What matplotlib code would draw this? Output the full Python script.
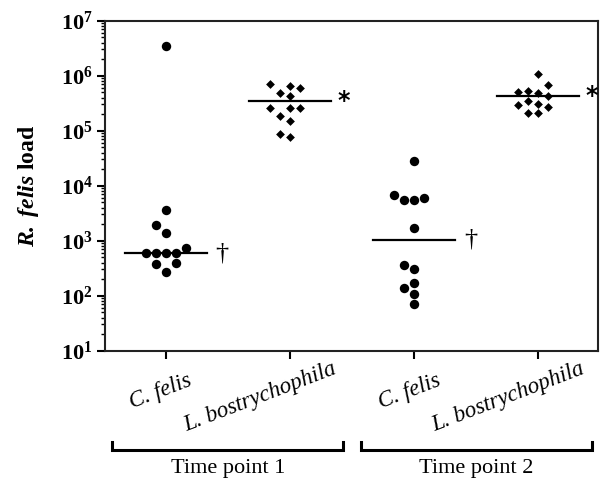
import numpy as np
import matplotlib
matplotlib.use("Agg")
import matplotlib.pyplot as plt
from matplotlib.lines import Line2D
import matplotlib.transforms as mtransforms

plt.rcParams['font.family'] = ['Liberation Serif', 'DejaVu Serif']
plt.rcParams['mathtext.fontset'] = 'custom'
plt.rcParams['mathtext.rm'] = 'Liberation Serif'
plt.rcParams['mathtext.it'] = 'Liberation Serif:italic'
plt.rcParams['mathtext.bf'] = 'Liberation Serif:bold'
plt.rcParams['mathtext.bfit'] = 'Liberation Serif:italic:bold'

# Data (R. felis load per sample)
groups = ['C. felis', 'L. bostrychophila', 'C. felis', 'L. bostrychophila']
time_points = ['Time point 1', 'Time point 2']
cfelis_tp1 = [3.4e6, 3600, 1930, 1360, 730, 590, 590, 590, 590, 390, 370, 275]
lbost_tp1 = [7.1e5, 6.5e5, 6.05e5, 4.9e5, 4.3e5, 2.55e5, 2.55e5, 2.55e5,
             1.87e5, 1.52e5, 8.7e4, 7.8e4]
cfelis_tp2 = [2.85e4, 6760, 5900, 5500, 5500, 1680, 361, 302, 172, 140, 106, 70]
lbost_tp2 = [1.07e6, 6.8e5, 5.3e5, 5.1e5, 4.8e5, 4.3e5, 3.5e5, 3.05e5,
             2.9e5, 2.7e5, 2.07e5, 2.07e5]
medians = [590, 3.5e5, 1050, 4.2e5]
signif = ['\u2020', '*', '\u2020', '*']
markers = ['o', 'D', 'o', 'D']

series = [cfelis_tp1, lbost_tp1, cfelis_tp2, lbost_tp2]

fig = plt.figure(figsize=(6.01, 4.8), dpi=100)
ax = fig.add_axes([0.1747, 0.2694, 0.8203, 0.6875])
ax.set_yscale('log')
ax.set_ylim(10, 1e7)
ax.set_xlim(-0.49, 3.48)
fig.canvas.draw()


def swarm_offsets(vals, xc, step_px=10, min_px=9):
    # simple beeswarm: place points one by one at the nearest free column
    pts = []
    offs = np.zeros(len(vals))
    order = np.argsort(vals)
    for i in order:
        y_px = ax.transData.transform((xc, vals[i]))[1]
        k = 0
        cands = [0]
        for j in range(1, 6):
            cands += [-j, j]
        for c in cands:
            ok = True
            for (px, py) in pts:
                if np.hypot(c * step_px - px, y_px - py) < min_px:
                    ok = False
                    break
            if ok:
                k = c
                break
        pts.append((k * step_px, y_px))
        offs[i] = k * step_px
    # convert px offsets to data units
    x0 = ax.transData.transform((0, 1))[0]
    x1 = ax.transData.transform((1, 1))[0]
    return offs / (x1 - x0)


for i, vals in enumerate(series):
    vals = np.array(vals)
    xs = i + swarm_offsets(vals, i)
    if markers[i] == 'o':
        ax.scatter(xs, vals, s=46, marker='o', color='black', zorder=3, linewidths=0)
    else:
        ax.scatter(xs, vals, s=20, marker='D', color='black', zorder=3, linewidths=0)
    ax.plot([i - 0.33, i + 0.33], [medians[i], medians[i]], color='black', lw=1.6, zorder=2)
    if signif[i] == '*':
        ax.text(i + 0.38, medians[i], signif[i], fontsize=17, fontweight='bold',
                ha='left', va='center', family=['DejaVu Sans'])
    else:
        ax.text(i + 0.40, medians[i], signif[i], fontsize=19,
                ha='left', va='center')

# axes styling
for sp in ax.spines.values():
    sp.set_linewidth(1.5)
    sp.set_color('#222222')
ax.set_yticks([10.0 ** e for e in range(1, 8)])
ax.set_yticklabels([r'$\mathbf{10^{%d}}$' % e for e in range(1, 8)], fontsize=16)
ax.tick_params(axis='y', which='major', length=6, width=1.5, pad=3)
ax.tick_params(axis='y', which='minor', length=3, width=1.0)
ax.set_xticks(range(4))
ax.set_xticklabels([])
ax.tick_params(axis='x', which='major', length=6, width=1.5, direction='out')
ax.tick_params(axis='x', which='minor', length=0)

ax.set_ylabel(r'$\mathbfit{R.\ felis}$ load', fontsize=17, fontweight='bold')
ax.yaxis.set_label_coords(-0.13, 0.5)

# rotated group labels
trans = mtransforms.blended_transform_factory(ax.transData, ax.transAxes)
label_off = [(19.5, -24.5), (34, -16.5), (19.5, -24.5), (34, -16.5)]
for i, name in enumerate(groups):
    ax.annotate(name, xy=(i, 0), xycoords=trans, xytext=label_off[i],
                textcoords='offset points', ha='right', va='baseline',
                rotation=21, rotation_mode='anchor', fontsize=16.5, style='italic',
                annotation_clip=False)

# brackets for time points
for j, tp in enumerate(time_points):
    c = 2 * j + 0.5
    xl, xr = c - 0.93, c + 0.93
    ax.add_line(Line2D([xl, xl, xr, xr], [-0.277, -0.301, -0.301, -0.277],
                       transform=trans, color='black', lw=2.2, clip_on=False,
                       solid_joinstyle='miter'))
    ax.text(c, -0.356, tp, transform=trans, ha='center', va='center', fontsize=16)

fig.savefig('out.png', dpi=100)
